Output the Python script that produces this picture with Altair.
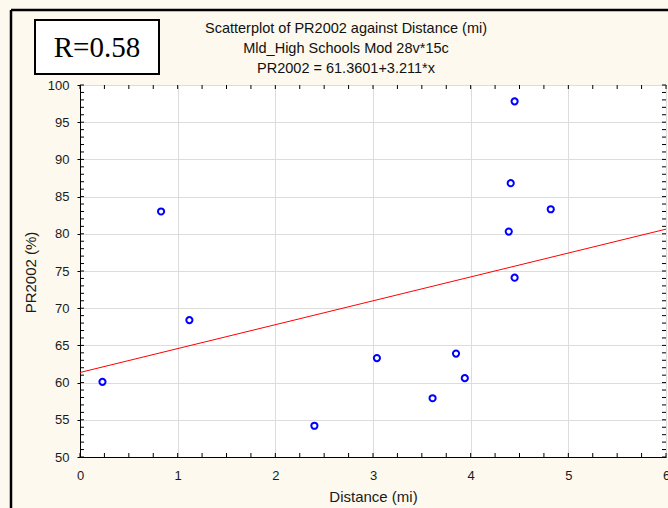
import altair as alt
import pandas as pd

# ---- data ----
distance = [0.23, 0.83, 1.12, 2.40, 3.04, 3.61, 3.85, 3.94, 4.39, 4.41, 4.45, 4.45, 4.82]
pr2002 = [60.1, 83.0, 68.4, 54.2, 63.3, 57.9, 63.9, 60.6, 80.3, 86.8, 97.8, 74.1, 83.3]
intercept = 61.3601
slope = 3.211
x_ticks = [0, 1, 2, 3, 4, 5, 6]
y_ticks = [50, 55, 60, 65, 70, 75, 80, 85, 90, 95, 100]
x_minor = [i * 0.25 for i in range(25)]
y_minor = list(range(50, 101))
titles = ["Scatterplot of PR2002 against Distance (mi)",
          "Mld_High Schools Mod 28v*15c",
          "PR2002 = 61.3601+3.211*x"]
r_label = "R=0.58"

W, H = 586, 372
PAD_L, PAD_T = 80, 85

pts = pd.DataFrame({"dist": distance, "pr": pr2002})
fit = pd.DataFrame({"dist": [0, 6], "pr": [intercept, intercept + slope * 6]})
one = pd.DataFrame({"k": [0]})

xs = alt.Scale(domain=[0, 6], nice=False, zero=False)
ys = alt.Scale(domain=[50, 100], nice=False, zero=False)
xax = alt.Axis(values=x_ticks, tickSize=0, labelPadding=12, format="d", labelFlush=False,
               titleX=293, titleY=39, titleBaseline="middle",
               gridColor="#dcdcdc", gridWidth=1)
yax = alt.Axis(values=y_ticks, tickSize=3, labelPadding=8, format="d", labelFlush=False,
               titleAngle=270, titleX=-50, titleY=187,
               titleBaseline="middle", titleAlign="center",
               gridColor="#dcdcdc", gridWidth=1)


def X(f):
    return alt.X(f, type="quantitative", scale=xs, axis=xax, title="Distance (mi)")


def Y(f):
    return alt.Y(f, type="quantitative", scale=ys, axis=yax, title="PR2002 (%)")


line = alt.Chart(fit).mark_line(color="#FF0000", strokeWidth=1).encode(x=X("dist"), y=Y("pr"))

points = alt.Chart(pts).mark_point(
    shape="circle", filled=False, color="#0000FF", size=38, strokeWidth=2, opacity=1
).encode(x=X("dist"), y=Y("pr"))

xm = pd.DataFrame({"t": x_minor})
ym = pd.DataFrame({"t": y_minor})
xb = alt.Chart(xm).mark_rule(color="#000000", strokeWidth=1).encode(
    x=X("t"), y=alt.value(H), y2=alt.value(H - 4))
xt = alt.Chart(xm).mark_rule(color="#000000", strokeWidth=1).encode(
    x=X("t"), y=alt.value(0), y2=alt.value(4))
yl = alt.Chart(ym).mark_rule(color="#000000", strokeWidth=1).encode(
    y=Y("t"), x=alt.value(0), x2=alt.value(4))
yr = alt.Chart(ym).mark_rule(color="#000000", strokeWidth=1).encode(
    y=Y("t"), x=alt.value(W), x2=alt.value(W - 4))

# outer frame (top and left edges)
frame_top = alt.Chart(one).mark_rule(color="#000000", strokeWidth=2.5).encode(
    x=alt.value(11 - PAD_L), x2=alt.value(668 - PAD_L), y=alt.value(10 - PAD_T))
frame_left = alt.Chart(one).mark_rule(color="#000000", strokeWidth=2.5).encode(
    x=alt.value(11 - PAD_L), y=alt.value(10 - PAD_T), y2=alt.value(508 - PAD_T))

# R box
rbox = alt.Chart(one).mark_rect(fill="#FFFFFF", stroke="#000000", strokeWidth=2).encode(
    x=alt.value(35 - PAD_L), x2=alt.value(159 - PAD_L),
    y=alt.value(20 - PAD_T), y2=alt.value(74 - PAD_T))
rtext = alt.Chart(pd.DataFrame({"s": [r_label]})).mark_text(
    font="Liberation Serif", fontSize=29, color="#000000", align="center", baseline="alphabetic"
).encode(text="s:N", x=alt.value(97 - PAD_L), y=alt.value(57 - PAD_T))

# three centred title lines as one multi-line text (first line centre at y=29)
title_text = alt.Chart(pd.DataFrame({"s": ["\n".join(titles)]})).mark_text(
    font="Liberation Sans", fontSize=14.5, color="#111111", align="center",
    baseline="middle", lineBreak="\n", lineHeight=20
).encode(text="s:N", x=alt.value(346 - PAD_L), y=alt.value(29 - PAD_T))

chart = alt.layer(
    line, xb, xt, yl, yr, points, frame_top, frame_left, rbox, rtext, title_text
).properties(
    width=W, height=H,
    autosize=alt.AutoSizeParams(type="none"),
    padding={"left": PAD_L, "top": PAD_T, "right": 668 - PAD_L - W, "bottom": 508 - PAD_T - H},
).configure(
    background="#FDF9EE",
    font="Liberation Sans",
).configure_view(
    fill="#FFFFFF", stroke="#000000", strokeWidth=1,
).configure_axis(
    domainColor="#000000", domainWidth=1, tickColor="#000000",
    labelFont="Liberation Sans", labelFontSize=13, labelColor="#1a1a1a",
    titleFont="Liberation Sans", titleFontSize=15, titleColor="#1a1a1a", titleFontWeight="normal",
)

chart.save("out.html", embed_options={"renderer": "svg", "actions": False})
